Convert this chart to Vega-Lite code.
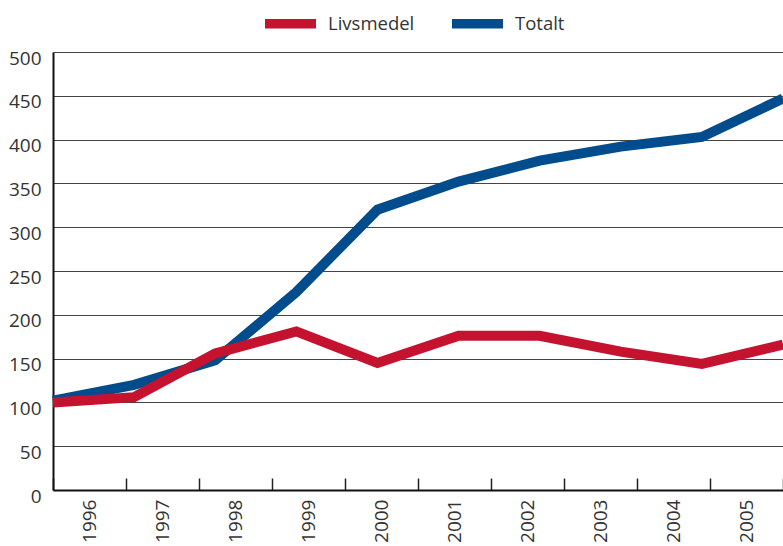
{
  "$schema": "https://vega.github.io/schema/vega-lite/v6.json",
  "width": 730,
  "height": 438,
  "autosize": {"type": "none"},
  "padding": {"left": 53, "top": 52, "right": 0, "bottom": 56},
  "background": "white",
  "config": {
    "view": {"stroke": null},
    "font": "Open Sans"
  },
  "data": {
    "values": [
      {"year": "1996", "series": "Livsmedel", "value": 100},
      {"year": "1997", "series": "Livsmedel", "value": 106},
      {"year": "1998", "series": "Livsmedel", "value": 156},
      {"year": "1999", "series": "Livsmedel", "value": 181},
      {"year": "2000", "series": "Livsmedel", "value": 145},
      {"year": "2001", "series": "Livsmedel", "value": 176},
      {"year": "2002", "series": "Livsmedel", "value": 176},
      {"year": "2003", "series": "Livsmedel", "value": 158},
      {"year": "2004", "series": "Livsmedel", "value": 144},
      {"year": "2005", "series": "Livsmedel", "value": 166},
      {"year": "1996", "series": "Totalt", "value": 102},
      {"year": "1997", "series": "Totalt", "value": 120},
      {"year": "1998", "series": "Totalt", "value": 148},
      {"year": "1999", "series": "Totalt", "value": 226},
      {"year": "2000", "series": "Totalt", "value": 320},
      {"year": "2001", "series": "Totalt", "value": 352},
      {"year": "2002", "series": "Totalt", "value": 376},
      {"year": "2003", "series": "Totalt", "value": 392},
      {"year": "2004", "series": "Totalt", "value": 403},
      {"year": "2005", "series": "Totalt", "value": 447}
    ]
  },
  "layer": [
    {
      "mark": {"type": "rule", "opacity": 0},
      "encoding": {
        "x": {
          "field": "year",
          "type": "ordinal",
          "scale": {"type": "band", "paddingInner": 0, "paddingOuter": 0},
          "axis": {
            "orient": "bottom",
            "title": null,
            "labelAngle": -90,
            "tickBand": "extent",
            "tickSize": -12,
            "tickColor": "#222",
            "tickWidth": 1.5,
            "domainColor": "#111",
            "domainWidth": 2,
            "grid": false,
            "labelFontSize": 19,
            "labelColor": "#333",
            "labelPadding": 21
          }
        }
      }
    },
    {
      "transform": [{"filter": "datum.series === 'Totalt'"}],
      "mark": {"type": "line", "strokeWidth": 10},
      "encoding": {
        "x": {"field": "year", "type": "ordinal", "scale": {"type": "point", "padding": 0}, "axis": null},
        "y": {
          "field": "value",
          "type": "quantitative",
          "scale": {"domain": [0, 500], "nice": false},
          "axis": {
            "title": null,
            "values": [0, 50, 100, 150, 200, 250, 300, 350, 400, 450, 500],
            "ticks": false,
            "domainColor": "#111",
            "domainWidth": 2,
            "grid": true,
            "gridColor": "#444",
            "gridWidth": 1,
            "labelFontSize": 19,
            "labelColor": "#333",
            "labelPadding": 12,
            "labelOffset": 6
          }
        },
        "color": {
          "field": "series",
          "type": "nominal",
          "scale": {"domain": ["Livsmedel", "Totalt"], "range": ["#C4122F", "#004C8C"]},
          "legend": {
            "orient": "none",
            "legendX": 207,
            "legendY": -59,
            "direction": "horizontal",
            "title": null,
            "symbolType": "stroke",
            "symbolStrokeWidth": 9.5,
            "symbolSize": 2601,
            "labelFontSize": 18.5,
            "labelColor": "#333",
            "labelOffset": 7,
            "columnPadding": 18
          }
        }
      }
    },
    {
      "transform": [{"filter": "datum.series === 'Livsmedel'"}],
      "mark": {"type": "line", "strokeWidth": 10},
      "encoding": {
        "x": {"field": "year", "type": "ordinal", "scale": {"type": "point", "padding": 0}, "axis": null},
        "y": {"field": "value", "type": "quantitative"},
        "color": {"field": "series", "type": "nominal"}
      }
    }
  ],
  "resolve": {"scale": {"x": "independent"}}
}
